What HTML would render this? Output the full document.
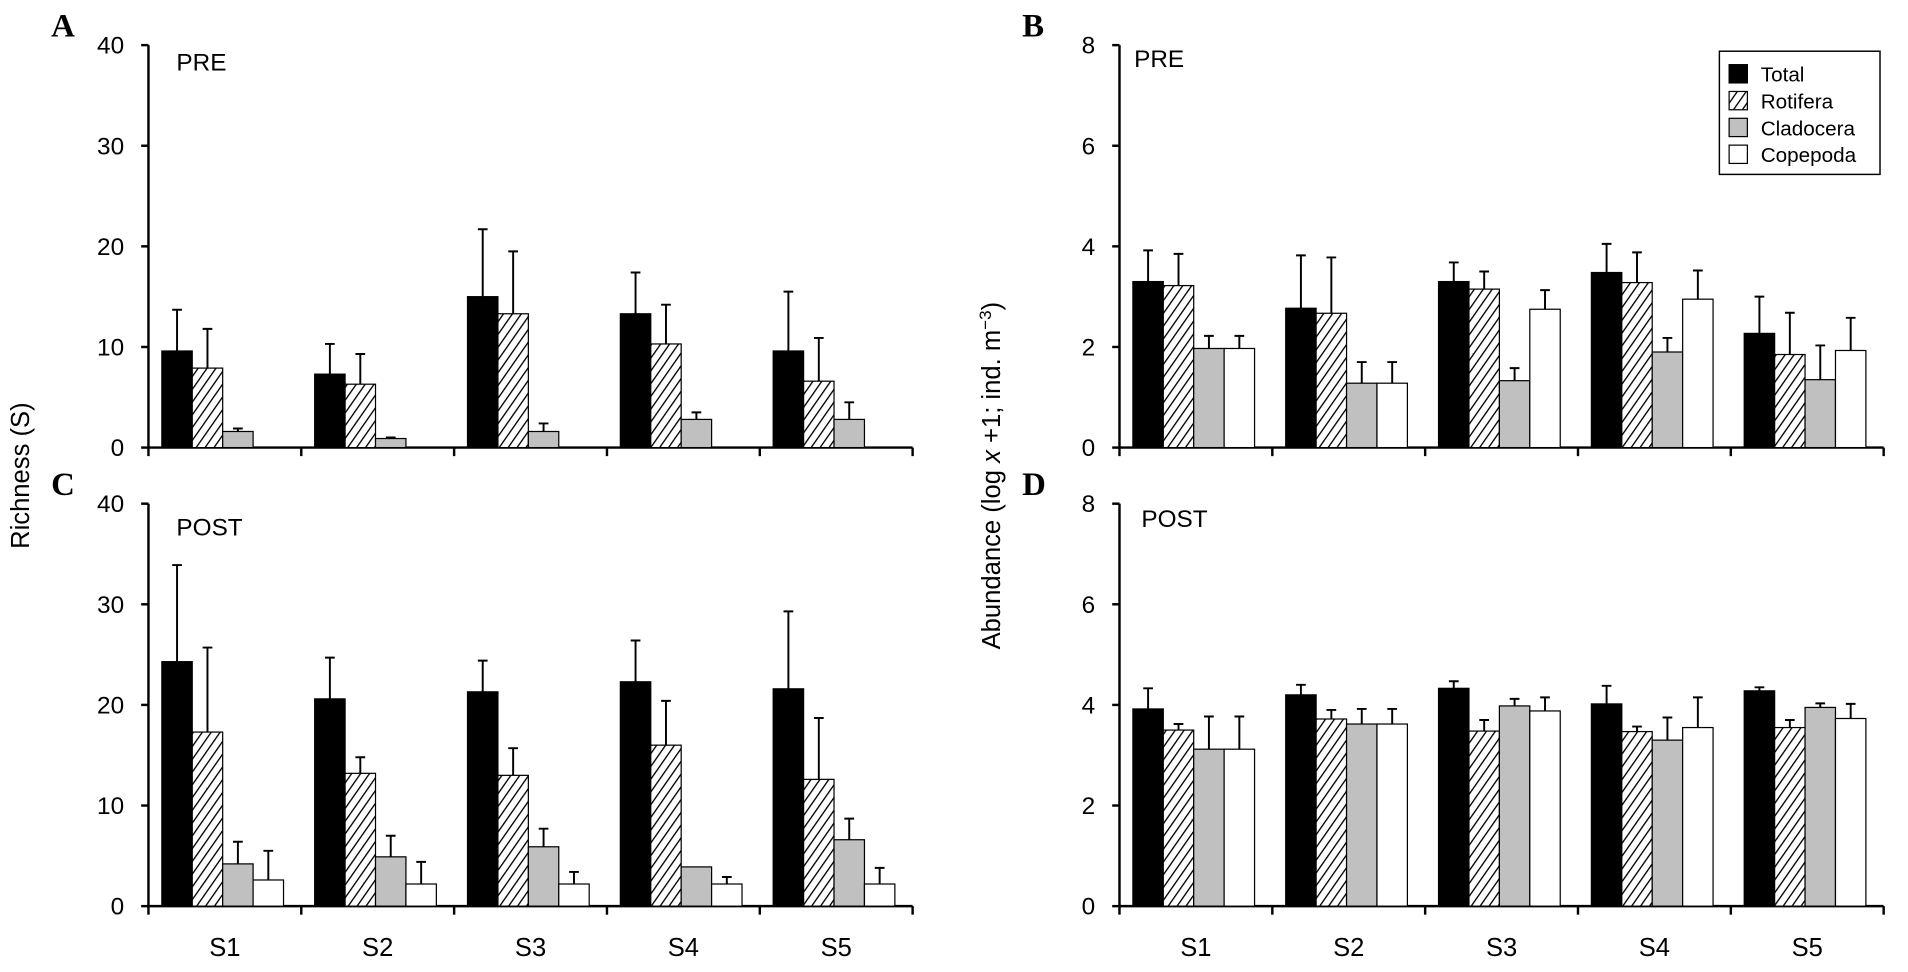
<!DOCTYPE html>
<html><head><meta charset="utf-8"><style>
html,body{margin:0;padding:0;background:#fff}
svg{display:block}
text{font-family:"Liberation Sans",Arial,sans-serif}
text.letter{font-family:"Liberation Serif",serif;font-weight:bold}
</style></head><body>
<svg id="fig" width="1908" height="972" viewBox="0 0 1568 797" preserveAspectRatio="none" xmlns="http://www.w3.org/2000/svg">
<defs>
<pattern id="hatch" patternUnits="userSpaceOnUse" width="6" height="6" patternTransform="rotate(35)">
<rect width="6" height="6" fill="#fff"/><line x1="0" y1="0" x2="0" y2="6" stroke="#000" stroke-width="2.2"/>
</pattern>
</defs>
<g id="root"></g>
</svg>
<script>
const categories = ["S1","S2","S3","S4","S5"];
const seriesNames = ["Total","Rotifera","Cladocera","Copepoda"];
// Panel A: richness PRE (mean / upper error)
const aTotal=[9.6,7.3,15,13.3,9.6], aTotalErr=[13.7,10.3,21.7,17.4,15.5];
const aRot=[7.9,6.3,13.3,10.3,6.6], aRotErr=[11.8,9.3,19.5,14.2,10.9];
const aClad=[1.6,0.9,1.6,2.8,2.8], aCladErr=[1.9,1.0,2.4,3.5,4.5];
const aCope=[0,0,0,0,0], aCopeErr=[0,0,0,0,0];
// Panel C: richness POST
const cTotal=[24.3,20.6,21.3,22.3,21.6], cTotalErr=[33.9,24.7,24.4,26.4,29.3];
const cRot=[17.3,13.2,13.0,16.0,12.6], cRotErr=[25.7,14.8,15.7,20.4,18.7];
const cClad=[4.2,4.9,5.9,3.9,6.6], cCladErr=[6.4,7.0,7.7,3.9,8.7];
const cCope=[2.6,2.2,2.2,2.2,2.2], cCopeErr=[5.5,4.4,3.4,2.9,3.8];
// Panel B: abundance PRE
const bTotal=[3.3,2.77,3.3,3.48,2.27], bTotalErr=[3.92,3.82,3.68,4.05,3.0];
const bRot=[3.22,2.67,3.15,3.28,1.85], bRotErr=[3.85,3.78,3.5,3.88,2.68];
const bClad=[1.97,1.28,1.33,1.9,1.35], bCladErr=[2.22,1.7,1.58,2.18,2.03];
const bCope=[1.97,1.28,2.75,2.95,1.93], bCopeErr=[2.22,1.7,3.13,3.52,2.58];
// Panel D: abundance POST
const dTotal=[3.92,4.2,4.33,4.02,4.28], dTotalErr=[4.33,4.4,4.47,4.38,4.35];
const dRot=[3.5,3.72,3.48,3.47,3.55], dRotErr=[3.62,3.9,3.7,3.57,3.7];
const dClad=[3.12,3.62,3.98,3.3,3.95], dCladErr=[3.77,3.92,4.12,3.75,4.03];
const dCope=[3.12,3.62,3.88,3.55,3.73], dCopeErr=[3.77,3.92,4.15,4.15,4.02];
const richTicks=[0,10,20,30,40];
const abundTicks=[0,2,4,6,8];

const NS="http://www.w3.org/2000/svg";
const root=document.getElementById('root');
const fills=["#000","url(#hatch)","#c0c0c0","#fff"];
function mk(tag,attrs,parent){const e=document.createElementNS(NS,tag);for(const k in attrs)e.setAttribute(k,attrs[k]);(parent||root).appendChild(e);return e;}

function panel(id,x0,x1,yTop,yZero,maxV,ticks,series,errs,letter,tag,tagX,tagY,showX){
  const g=mk('g',{});
  
  
  const yS=v=>yZero-(v/maxV)*(yZero-yTop);
  const gw=(x1-x0)/categories.length;
  const xS=(i,s)=>x0+i*gw+11+s*25;
  const ya=mk('line',{x1:x0,y1:yTop,x2:x0,y2:yZero,stroke:'#000','stroke-width':2},g);
  
  
  const xa=mk('line',{x1:x0,y1:yZero,x2:x1,y2:yZero,stroke:'#000','stroke-width':2},g);
  
  
  ticks.forEach(t=>{
    const y=yS(t);
    mk('line',{x1:x0-6,y1:y,x2:x0,y2:y,stroke:'#000','stroke-width':2},g);
    const tl=mk('text',{x:x0-20,y:y+7,'text-anchor':'end','font-size':20},g);
    tl.textContent=t;
    
    
  });
  for(let i=0;i<=categories.length;i++){
    const x=x0+i*gw;
    mk('line',{x1:x,y1:yZero,x2:x,y2:yZero+7,stroke:'#000','stroke-width':2},g);
  }
  series.forEach((arr,s)=>{
    arr.forEach((v,i)=>{
      if(v<=0)return;
      const x=xS(i,s),y=yS(v);
      const r=mk('rect',{x:x,y:y,width:25,height:yZero-y,fill:fills[s],stroke:'#000','stroke-width':1},g);
      
      
      const ev=errs[s][i];
      if(ev>v){
        const ye=yS(ev),cx=x+12.5;
        const el=mk('path',{d:`M${cx},${y} L${cx},${ye} M${cx-4},${ye} L${cx+4},${ye}`,stroke:'#000','stroke-width':1.6,fill:'none'},g);
        
        
      }
    });
  });
  if(showX){
    categories.forEach((c,i)=>{
      const t=mk('text',{x:x0+i*gw+gw/2,y:yZero+41,'text-anchor':'middle','font-size':21},g);
      t.textContent=c;
      
      
    });
  }
  const L=mk('text',{x:x0-80,y:yTop-7,'font-size':27,'class':'letter'},g);
  L.textContent=letter;
  
  
  const T=mk('text',{x:tagX,y:tagY,'font-size':20},g);
  T.textContent=tag;
  
  
}

panel('a',122,750,37,367,40,richTicks,[aTotal,aRot,aClad,aCope],[aTotalErr,aRotErr,aCladErr,aCopeErr],'A','PRE',145,58,false);
panel('c',122,750,413,743,40,richTicks,[cTotal,cRot,cClad,cCope],[cTotalErr,cRotErr,cCladErr,cCopeErr],'C','POST',145,439,true);
panel('b',920,1548,37,367,8,abundTicks,[bTotal,bRot,bClad,bCope],[bTotalErr,bRotErr,bCladErr,bCopeErr],'B','PRE',932,55,false);
panel('d',920,1548,413,743,8,abundTicks,[dTotal,dRot,dClad,dCope],[dTotalErr,dRotErr,dCladErr,dCopeErr],'D','POST',938,432,true);

const yt1=mk('text',{x:0,y:0,'font-size':21,'text-anchor':'middle',transform:'translate(24,390) rotate(-90)'});
yt1.textContent='Richness (S)';


const yt2=mk('text',{x:0,y:0,'font-size':21,'text-anchor':'middle',transform:'translate(822,390) rotate(-90)'});
yt2.innerHTML='Abundance (log <tspan font-style="italic">x</tspan> +1; ind. m<tspan baseline-shift="super" font-size="14">−3</tspan>)';



const lg=mk('g',{});


mk('rect',{x:1413,y:42,width:132,height:101,fill:'#fff',stroke:'#000','stroke-width':1.2},lg);
seriesNames.forEach((n,s)=>{
  const y=53+s*22;
  const e=mk('g',{},lg);
  
  
  mk('rect',{x:1421,y:y,width:15,height:15,fill:fills[s],stroke:'#000','stroke-width':1},e);
  const t=mk('text',{x:1447,y:y+14,'font-size':17},e);
  t.textContent=n;
});
</script>
</body></html>
